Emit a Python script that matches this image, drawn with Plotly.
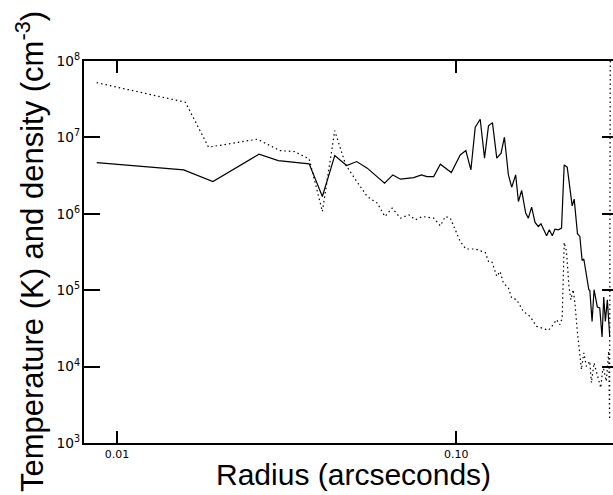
import math
import plotly.graph_objects as go

# Temperature profile (solid line)
temp_radius = [0.00872, 0.01573, 0.01918, 0.02623, 0.02989, 0.03685, 0.04031, 0.04384,
               0.04753, 0.05087, 0.05465, 0.06147, 0.06501, 0.06848, 0.07493, 0.07893,
               0.08197, 0.08577, 0.08974, 0.09667, 0.1027, 0.1067, 0.1104, 0.1137,
               0.1176, 0.1211, 0.1244, 0.1278, 0.1316, 0.1355, 0.1386, 0.1424,
               0.1456, 0.1496, 0.1524, 0.1558, 0.1601, 0.1630, 0.1667, 0.1706,
               0.1744, 0.1776, 0.1845, 0.1879, 0.1918, 0.1953, 0.1997, 0.2042,
               0.2079, 0.2122, 0.2195, 0.2225, 0.2275, 0.2312, 0.2348, 0.2375,
               0.2457, 0.2474, 0.2512, 0.2546, 0.2603, 0.2646, 0.2688, 0.2719,
               0.2749, 0.2786, 0.2831]
temperature = [4.685e6, 3.76e6, 2.644e6, 6.03e6, 4.97e6, 4.50e6, 1.683e6, 5.78e6,
               4.28e6, 4.83e6, 3.96e6, 2.52e6, 3.23e6, 2.84e6, 2.98e6, 3.23e6,
               3.07e6, 3.07e6, 4.46e6, 3.47e6, 5.90e6, 6.72e6, 3.76e6, 1.359e7,
               1.730e7, 5.35e6, 1.414e7, 1.561e7, 5.35e6, 6.22e6, 1.006e7, 3.23e6,
               2.23e6, 3.23e6, 1.448e6, 2.02e6, 1.021e6, 8.78e5, 1.224e6, 7.70e5,
               6.82e5, 7.40e5, 5.16e5, 6.18e5, 5.16e5, 6.31e5, 6.18e5, 6.50e5,
               4.37e6, 4.08e6, 1.272e6, 1.557e6, 5.48e5, 5.05e5, 2.45e5, 2.56e5,
               1.015e5, 9.94e4, 3.91e4, 1.015e5, 6.03e4, 5.85e4, 2.44e4, 8.15e4,
               3.91e4, 7.51e4, 2.49e4]

# Density profile (dotted line)
dens_radius = [0.00872, 0.01591, 0.01862, 0.02594, 0.03024, 0.03331, 0.03685, 0.04031,
               0.04384, 0.04721, 0.05053, 0.05465, 0.05848, 0.06160, 0.06471, 0.06848,
               0.07244, 0.07579, 0.07925, 0.08577, 0.08974, 0.09284, 0.09603, 0.1027,
               0.1067, 0.1137, 0.1217, 0.1244, 0.1272, 0.1316, 0.1346, 0.1376,
               0.1424, 0.1456, 0.1506, 0.1576, 0.1649, 0.1724, 0.1783, 0.1866,
               0.1930, 0.1974, 0.2020, 0.2051, 0.2079, 0.2112, 0.2147, 0.2176,
               0.2210, 0.2236, 0.2275, 0.2312, 0.2337, 0.2375, 0.2417, 0.2474,
               0.2500, 0.2546, 0.2603, 0.2664, 0.2706, 0.2767, 0.2812, 0.2829,
               0.2843]
density = [5.20e7, 2.885e7, 7.45e6, 9.47e6, 6.72e6, 6.52e6, 5.24e6, 1.072e6,
           1.227e7, 4.37e6, 2.78e6, 1.683e6, 1.380e6, 9.22e5, 1.187e6, 8.78e5,
           9.70e5, 8.35e5, 9.22e5, 8.78e5, 6.97e5, 9.22e5, 8.78e5, 4.34e5,
           3.46e5, 3.46e5, 3.12e5, 2.38e5, 2.38e5, 1.515e5, 1.761e5, 1.242e5,
           1.069e5, 7.91e4, 7.51e4, 5.28e4, 4.54e4, 3.36e4, 3.21e4, 2.98e4,
           3.54e4, 4.12e4, 3.54e4, 4.33e4, 4.21e5, 3.22e5, 1.121e5, 7.51e4,
           1.015e5, 6.80e4, 2.76e4, 1.363e4, 9.14e3, 1.51e4, 1.009e4, 1.173e4,
           6.12e3, 1.118e4, 7.47e3, 5.27e3, 1.009e4, 6.42e3, 1.585e4, 2.03e3,
           3e8]

x_title = "Radius (arcseconds)"
y_title = "Temperature (K) and density (cm<sup>-3</sup>)"
x_range = [0.008, 0.2995]
y_range = [1e3, 1e8]

fig = go.Figure()
fig.add_trace(go.Scatter(x=temp_radius, y=temperature, mode="lines",
                         line=dict(color="black", width=1.2)))
fig.add_trace(go.Scatter(x=dens_radius, y=density, mode="lines",
                         line=dict(color="black", width=1.2, dash="1.5px,3px")))

tickfont = dict(family="DejaVu Sans, sans-serif", size=11, color="black")
xtitlefont = dict(family="Liberation Sans, Arial, sans-serif", size=30, color="black")
ytitlefont = dict(family="Liberation Sans, Arial, sans-serif", size=31, color="black")

fig.update_layout(
    width=621, height=495,
    margin=dict(l=84, r=1, t=61, b=52),
    paper_bgcolor="white", plot_bgcolor="white",
    showlegend=False,
    xaxis=dict(
        type="log", range=[math.log10(v) for v in x_range],
        showline=True, linecolor="black", linewidth=1.5, mirror="ticks",
        ticks="inside", ticklen=12, tickwidth=1.5, tickcolor="black",
        dtick=1, tickformat=".2f", tickfont=tickfont,
        showgrid=False, zeroline=False,
    ),
    yaxis=dict(
        type="log", range=[math.log10(v) for v in y_range],
        showline=True, linecolor="black", linewidth=1.5, mirror="ticks",
        ticks="inside", ticklen=16, tickwidth=1.5, tickcolor="black",
        dtick=1, exponentformat="power", tickfont=tickfont,
        showgrid=False, zeroline=False,
    ),
    annotations=[
        dict(text=x_title, xref="paper", yref="paper", x=0.5, y=0,
             xanchor="center", yanchor="middle", xshift=2, yshift=-31,
             showarrow=False, font=xtitlefont),
        dict(text=y_title, xref="paper", yref="paper", x=0, y=0.5,
             xanchor="center", yanchor="middle", xshift=-54, textangle=-90,
             showarrow=False, font=ytitlefont),
    ],
)

fig.write_html("out.html", config={"displayModeBar": False},
               post_script="document.body.style.margin='0';document.body.style.overflow='hidden';")
